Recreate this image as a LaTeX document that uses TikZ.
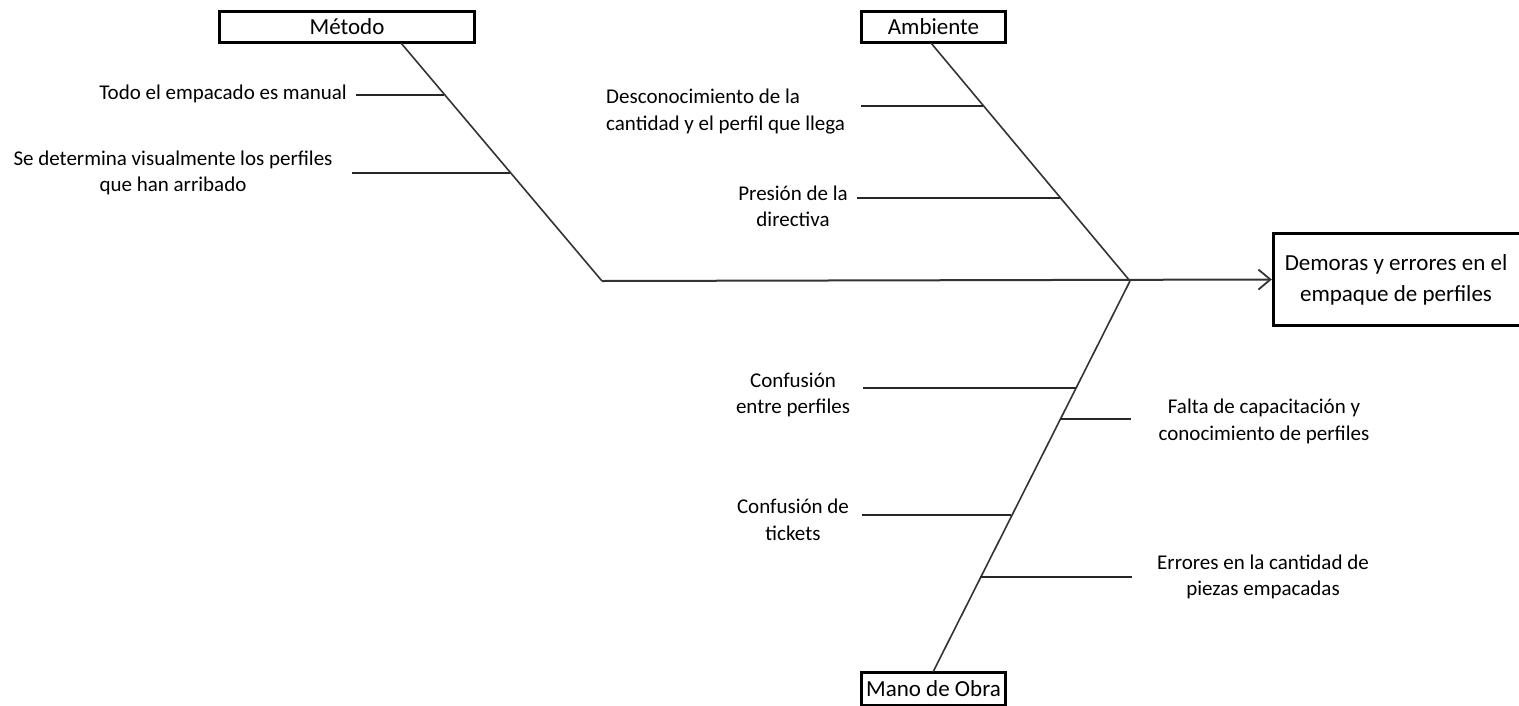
\documentclass[tikz,border=0pt]{standalone}
\usepackage{fontspec}
\setmainfont{Carlito}
\usetikzlibrary{arrows.meta}
\begin{document}
\begin{tikzpicture}[x=1pt,y=-1pt,
  hdr/.style={draw=black,line width=3pt,minimum height=31pt,inner sep=0pt,font=\fontsize{23}{28}\selectfont},
  lbl/.style={align=center,inner sep=0pt,font=\fontsize{21}{26.5}\selectfont},
  bone/.style={draw=black!80,line width=1.6pt},
  twig/.style={draw=black!85,line width=2pt},
  spinemain/.style={draw=black!80,line width=2pt},
  openbox/.style={draw=black,line width=3pt,line join=miter}]
\useasboundingbox[fill=white] (0,0) rectangle (1519,705);

% category boxes
\node[hdr,minimum width=255pt] (met) at (347,27) {Método};
\node[hdr,minimum width=144pt] (amb) at (933.5,26.5) {Ambiente};
\node[hdr,minimum width=144pt,minimum height=33pt] (mano) at (933.5,689) {Mano de Obra};

% effect box (cut off by the right edge of the picture)
\node[minimum width=360pt,minimum height=92pt,inner sep=0pt] (eff) at (1453.5,279.5) {};
\draw[openbox] (eff.north east) -- (eff.north west) -- (eff.south west) -- (eff.south east);
\node[lbl,font=\fontsize{23}{31}\selectfont] (efftext) at (1396,280) {Demoras y errores en el\\empaque de perfiles};

% spine points
\coordinate (mtop) at (401,43);
\coordinate (mbot) at (602,281);
\coordinate (atop) at (931,43);
\coordinate (head) at (1130,281);
\coordinate (bbot) at (933,672);

\draw[bone] (mtop) -- (mbot);
\draw[bone] (atop) -- (head);
\draw[bone] (bbot) -- (head);
\draw[spinemain,-{Straight Barb[length=12pt,width=20pt,line width=1.8pt]}] (mbot) -- ([xshift=-1.5pt]eff.west);

% twig anchor points on spines
\coordinate (m1) at (444,95);   \coordinate (m1e) at (356,95);
\coordinate (m2) at (510,173);  \coordinate (m2e) at (352,173);
\coordinate (a1) at (983,106);  \coordinate (a1e) at (861,106);
\coordinate (a2) at (1060,198); \coordinate (a2e) at (857,198);
\coordinate (b1) at (1076,388); \coordinate (b1e) at (863,388);
\coordinate (b2) at (1060,419); \coordinate (b2e) at (1131,419);
\coordinate (b3) at (1011,515); \coordinate (b3e) at (862,515);
\coordinate (b4) at (980,577);  \coordinate (b4e) at (1132,577);

\draw[twig] (m1e) -- (m1);
\draw[twig] (m2e) -- (m2);
\draw[twig] (a1e) -- (a1);
\draw[twig] (a2e) -- (a2);
\draw[twig] (b1e) -- (b1);
\draw[twig] (b2) -- (b2e);
\draw[twig] (b3e) -- (b3);
\draw[twig] (b4) -- (b4e);

% labels
\node[lbl,anchor=east] (t1) at (347,94) {Todo el empacado es manual};
\node[lbl] (t2) at (173,173) {Se determina visualmente los perfiles\\que han arribado};
\node[lbl,align=left,anchor=west] (t3) at (606,111.5) {Desconocimiento de la\\cantidad y el perfil que llega};
\node[lbl] (t4) at (793,206.5) {Presión de la\\directiva};
\node[lbl] (t5) at (793,395) {Confusión\\entre perfiles};
\node[lbl] (t6) at (1264,421.5) {Falta de capacitación y\\conocimiento de perfiles};
\node[lbl] (t7) at (793,520) {Confusión de\\tickets};
\node[lbl] (t8) at (1263,577) {Errores en la cantidad de\\piezas empacadas};
\end{tikzpicture}
\end{document}
